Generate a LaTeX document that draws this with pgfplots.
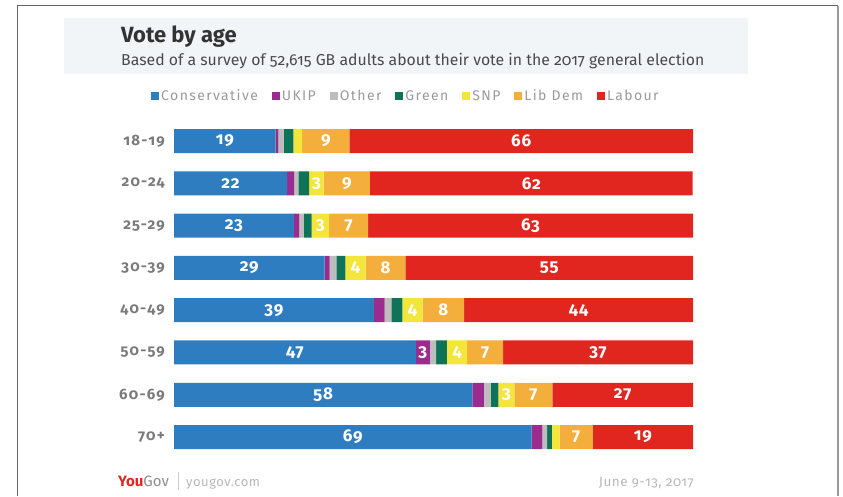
\documentclass[border=0pt]{standalone}
\usepackage{pgfplots}
\pgfplotsset{compat=1.18}
\usepackage{pgfplotstable}
\usepackage{fontspec}
\setmainfont{Fira Sans}[Numbers=OldStyle]
\definecolor{con}{HTML}{2F7DC1}
\definecolor{ukip}{HTML}{9B2B8F}
\definecolor{oth}{HTML}{BDBDBD}
\definecolor{gre}{HTML}{0E7357}
\definecolor{snp}{HTML}{F3E53A}
\definecolor{ld}{HTML}{F3AE3B}
\definecolor{lab}{HTML}{E0261F}
\definecolor{band}{HTML}{F2F5F8}
\definecolor{agegrey}{HTML}{7A7A7A}
\definecolor{leggrey}{HTML}{9A9A9A}
\definecolor{titlegrey}{HTML}{333333}
\definecolor{subgrey}{HTML}{4A4A4A}

\pgfplotstableread{
y con conl ukip ukipl oth gre snp snpl ld ldl lab labl
0 19.6 19 0.5  {} 1.0 1.9 1.7 {} 9.1 9 66.2 66
1 21.8 22 1.35 {} 0.8 2.1 2.8 3  8.9 9 62.2 62
2 23.1 23 1.0  {} 0.9 1.5 3.4 3  7.5 7 62.6 63
3 29.0 29 1.0  {} 1.3 1.7 3.9 4  7.7 8 55.4 55
4 38.5 39 2.1  {} 1.3 2.1 3.9 4  8.0 8 44.1 44
5 46.6 47 2.7  3  1.2 2.1 3.9 4  6.9 7 36.6 37
6 57.5 58 2.2  {} 1.3 1.5 3.1 3  7.3 7 27.1 27
7 68.9 69 2.1  {} 0.9 0.9 1.5 {} 6.4 7 19.3 19
}\data

\begin{document}
\begin{tikzpicture}[x=1pt,y=1pt]
\path[use as bounding box] (0,0) rectangle (843,496);
\fill[band] (64,422) rectangle (748,478);
\draw[color=black!60, line width=1pt] (17,0) -- (17,490) -- (838,490);
\draw[color=black!40, line width=2pt] (838,490) -- (838,0);
\node[anchor=base west, inner sep=0pt, font=\fontsize{22}{26}\selectfont\bfseries, text=titlegrey] at (121,453) {Vote by age};
\node[anchor=base west, inner sep=0pt, font=\fontsize{15.8}{18}\selectfont, text=subgrey] at (121,430) {Based of a survey of 52,615 GB adults about their vote in the 2017 general election};
\begin{axis}[
  at={(174pt,37.8pt)}, anchor=south west,
  scale only axis, width=519pt, height=338.3pt,
  xbar stacked, bar width=24pt,
  xmin=0, xmax=100, ymin=-0.5, ymax=7.5, y dir=reverse,
  axis line style={draw=none}, major tick length=0pt,
  xtick=\empty,
  ytick={0,...,7},
  yticklabels={18-19,20-24,25-29,30-39,40-49,50-59,60-69,70+},
  y tick label style={font=\fontsize{15}{16}\selectfont\bfseries\addfontfeatures{LetterSpace=8}, text=agegrey, anchor=east, inner sep=0pt, xshift=-9pt},
  legend style={at={(-0.05,1.0707)}, anchor=west, draw=none, fill=none,
    font=\fontsize{14}{16}\selectfont\addfontfeatures{LetterSpace=10}, text=leggrey,
    /tikz/every even column/.append style={column sep=12pt}},
  legend columns=7,
  legend image code/.code={\fill[#1] (0pt,-4pt) rectangle (8pt,4pt);},
  every node near coord/.append style={anchor=center, text=white, font=\fontsize{17}{18}\selectfont\bfseries\addfontfeatures{LetterSpace=5}},
]
\addplot[fill=con, draw=none, nodes near coords, point meta=explicit symbolic] table[x=con, y=y, meta=conl] {\data};
\addplot[fill=ukip, draw=none, nodes near coords, point meta=explicit symbolic] table[x=ukip, y=y, meta=ukipl] {\data};
\addplot[fill=oth, draw=none] table[x=oth, y=y] {\data};
\addplot[fill=gre, draw=none] table[x=gre, y=y] {\data};
\addplot[fill=snp, draw=none, nodes near coords, point meta=explicit symbolic] table[x=snp, y=y, meta=snpl] {\data};
\addplot[fill=ld, draw=none, nodes near coords, point meta=explicit symbolic] table[x=ld, y=y, meta=ldl] {\data};
\addplot[fill=lab, draw=none, nodes near coords, point meta=explicit symbolic] table[x=lab, y=y, meta=labl] {\data};
\legend{Conservative,UKIP,Other,Green,SNP,Lib Dem,Labour}
\end{axis}
\node[anchor=base west, inner sep=0pt, font=\fontsize{15}{16}\selectfont] at (118,10) {\textcolor{lab}{\textbf{You}}\textcolor{black!45}{Gov}};
\draw[black!20, line width=0.6pt] (178,6) -- (178,24);
\node[anchor=base west, inner sep=0pt, font=\fontsize{13}{16}\selectfont\addfontfeatures{LetterSpace=4}, text=black!28] at (186,10) {yougov.com};
\node[anchor=base east, inner sep=0pt, font=\fontsize{13.5}{16}\selectfont\addfontfeatures{LetterSpace=4}, text=black!28] at (694,10) {June 9-13, 2017};
\end{tikzpicture}
\end{document}
